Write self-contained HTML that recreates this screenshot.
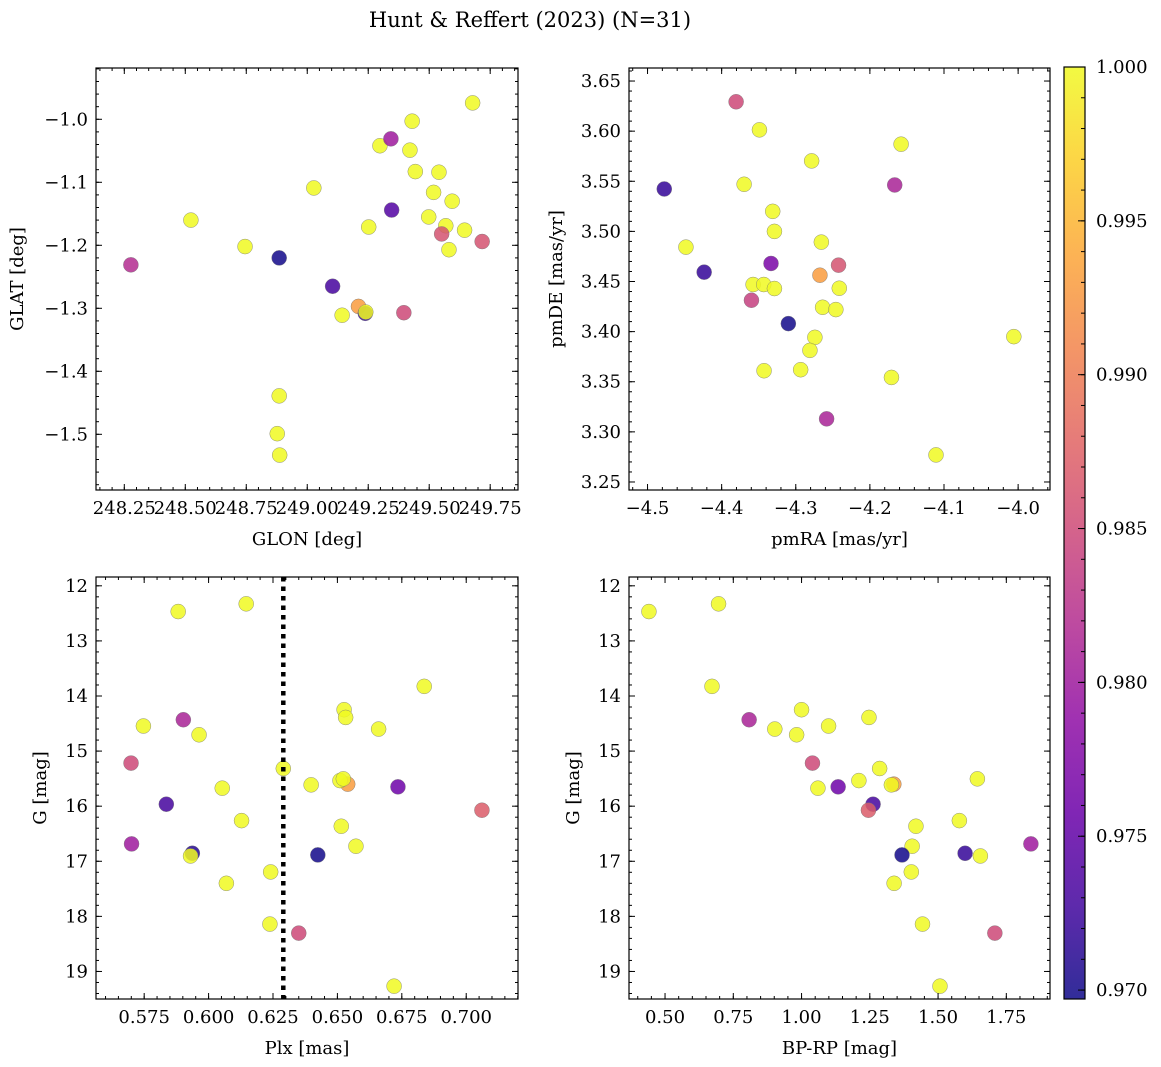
<!DOCTYPE html>
<html><head><meta charset="utf-8"><style>
html,body{margin:0;padding:0;background:#fff;}
svg{display:block;font-family:"DejaVu Serif","Liberation Serif",serif;}
</style></head><body>
<svg id="fig" width="1161" height="1067" viewBox="0 0 1161 1067" xmlns="http://www.w3.org/2000/svg">
<rect width="1161" height="1067" fill="#fff"/>
<text x="530" y="27" font-size="21" text-anchor="middle">Hunt &amp; Reffert (2023) (N=31)</text>
</svg>
<script>
// ---- Panel 1: GLON vs GLAT ----
const glon = [248.277,248.523,248.745,248.885,249.027,249.104,249.143,249.210,249.238,249.240,249.252,249.298,249.343,249.346,249.396,249.430,249.421,249.443,249.540,249.518,249.594,249.498,249.568,249.551,249.645,249.717,249.581,249.678,248.885,248.877,248.887];
const glat = [-1.231,-1.160,-1.202,-1.220,-1.109,-1.265,-1.311,-1.297,-1.308,-1.306,-1.171,-1.042,-1.031,-1.144,-1.307,-1.003,-1.049,-1.083,-1.084,-1.116,-1.130,-1.155,-1.169,-1.182,-1.176,-1.194,-1.207,-0.974,-1.439,-1.499,-1.533];
const prob1 = [0.982,1,1,0.970,1,0.973,1,0.993,0.972,1,1,1,0.980,0.974,0.985,1,1,1,1,1,1,1,1,0.986,1,0.986,1,1,1,1,1];
const p1xTicks = [248.25,248.50,248.75,249.00,249.25,249.50,249.75];
const p1yTicks = [-1.0,-1.1,-1.2,-1.3,-1.4,-1.5];

// ---- Panel 2: pmRA vs pmDE ----
const pmra = [-4.4774,-4.3805,-4.349,-4.3697,-4.1579,-4.2786,-4.1665,-4.3311,-4.3288,-4.4482,-4.2655,-4.3334,-4.4236,-4.2423,-4.2674,-4.3576,-4.3432,-4.3288,-4.2413,-4.3598,-4.2638,-4.2459,-4.31,-4.0058,-4.2742,-4.2809,-4.3428,-4.2934,-4.1709,-4.2584,-4.1108];
const pmde = [3.5423,3.6293,3.6013,3.547,3.587,3.5703,3.5463,3.52,3.50,3.4843,3.4893,3.468,3.4593,3.4663,3.4563,3.447,3.447,3.443,3.4433,3.4313,3.4243,3.422,3.408,3.395,3.3943,3.3813,3.361,3.362,3.3543,3.313,3.277];
const prob2 = [0.972,0.985,1,1,1,1,0.981,1,1,1,1,0.977,0.972,0.986,0.993,1,1,1,1,0.984,1,1,0.970,1,1,1,1,1,1,0.981,1];
const p2xTicks = [-4.5,-4.4,-4.3,-4.2,-4.1,-4.0];
const p2yTicks = [3.65,3.60,3.55,3.50,3.45,3.40,3.35,3.30,3.25];

// ---- Panel 3: Plx vs G ----
const plx = [0.5882,0.6146,0.6837,0.6526,0.6532,0.5902,0.5747,0.5963,0.6660,0.5699,0.6290,0.6398,0.6540,0.6510,0.6523,0.6735,0.6053,0.5836,0.7061,0.6128,0.6515,0.6572,0.5701,0.5937,0.5930,0.6424,0.6241,0.6069,0.6238,0.6350,0.6720];
const gmag3 = [12.467,12.327,13.825,14.249,14.389,14.431,14.545,14.704,14.6,15.218,15.316,15.613,15.6,15.535,15.504,15.649,15.673,15.964,16.073,16.262,16.364,16.727,16.685,16.855,16.904,16.885,17.194,17.4,18.14,18.304,19.267];
const prob3 = [1,1,1,1,1,0.981,1,1,1,0.985,1,1,0.993,1,1,0.976,1,0.973,0.987,1,1,1,0.980,0.971,1,0.970,1,1,1,0.985,1];
const plxCut = [0.629];
const p3xTicks = [0.575,0.600,0.625,0.650,0.675,0.700];
const gTicks = [12,13,14,15,16,17,18,19];

// ---- Panel 4: BP-RP vs G ----
const bprp = [0.441,0.696,0.672,1.000,0.808,1.247,0.902,1.099,0.982,1.040,1.286,1.644,1.060,1.134,1.210,1.338,1.329,1.262,1.245,1.578,1.419,1.405,1.840,1.368,1.599,1.655,1.402,1.339,1.443,1.708,1.507];
const gmag4 = [12.467,12.327,13.825,14.249,14.431,14.389,14.6,14.545,14.704,15.218,15.316,15.504,15.673,15.649,15.535,15.6,15.613,15.964,16.073,16.262,16.364,16.727,16.685,16.885,16.855,16.904,17.194,17.4,18.14,18.304,19.267];
const prob4 = [1,1,1,1,0.981,1,1,1,1,0.985,1,1,1,0.976,1,0.993,1,0.973,0.987,1,1,1,0.980,0.970,0.972,1,1,1,1,0.985,1];
const p4xTicks = [0.50,0.75,1.00,1.25,1.50,1.75];

// ---- Colorbar ----
const cbTicks = [1.000,0.995,0.990,0.985,0.980,0.975,0.970];
const cbRange = [0.96971,1.0];

const NS = "http://www.w3.org/2000/svg";
const svg = document.getElementById('fig');
const plasma = ["#0d0887","#41049d","#6a00a8","#8f0da4","#b12a90","#cc4778","#e16462","#f2844b","#fca636","#fcce25","#f0f921"];
function hex2rgb(h){return [parseInt(h.slice(1,3),16),parseInt(h.slice(3,5),16),parseInt(h.slice(5,7),16)];}
function cmap(v){
  let t=(v-cbRange[0])/(cbRange[1]-cbRange[0]); t=Math.max(0,Math.min(1,t));
  const f=t*10, i=Math.min(9,Math.floor(f)), r=f-i;
  const a=hex2rgb(plasma[i]), b=hex2rgb(plasma[i+1]);
  return 'rgb('+a.map((c,k)=>Math.round(c+(b[k]-c)*r)).join(',')+')';
}
function mk(tag,attrs,parent){const e=document.createElementNS(NS,tag);for(const k in attrs)e.setAttribute(k,attrs[k]);(parent||svg).appendChild(e);return e;}
function fmt(v,d){return (v<0?'\u2212':'')+Math.abs(v).toFixed(d);}

function panel(o){
  const g=mk('g',{});
  
  
  const sx=v=>o.L+(v-o.xlim[0])/(o.xlim[1]-o.xlim[0])*(o.R-o.L);
  const sy=v=>o.yinv? o.T+(v-o.ylim[0])/(o.ylim[1]-o.ylim[0])*(o.B-o.T)
                    : o.B-(v-o.ylim[0])/(o.ylim[1]-o.ylim[0])*(o.B-o.T);
  for(let i=0;i<o.xs.length;i++){
    const c=mk('circle',{cx:sx(o.xs[i]),cy:sy(o.ys[i]),r:7.5,fill:cmap(o.ps[i]),'fill-opacity':0.85,stroke:'#777','stroke-width':0.5,'stroke-opacity':0.8},g);
    
    
  }
  if(o.vline){
    for(const v of o.vline){
      const l=mk('line',{x1:sx(v),x2:sx(v),y1:o.T,y2:o.B,stroke:'#000','stroke-width':4.5,'stroke-dasharray':'4.5,5'},g);
      
      
    }
  }
  const tk=mk('g',{stroke:'#000','stroke-width':1},g);
  for(let v=o.xminor[0]; v<=o.xlim[1]+1e-9; v+=o.xminor[1]){
    if(v<o.xlim[0]) continue; const x=sx(v);
    mk('line',{x1:x,x2:x,y1:o.B,y2:o.B-3},tk); mk('line',{x1:x,x2:x,y1:o.T,y2:o.T+3},tk);
  }
  for(let v=o.yminor[0]; v<=Math.max(...o.ylim)+1e-9; v+=o.yminor[1]){
    if(v<Math.min(...o.ylim)) continue; const y=sy(v);
    mk('line',{x1:o.L,x2:o.L+3,y1:y,y2:y},tk); mk('line',{x1:o.R,x2:o.R-3,y1:y,y2:y},tk);
  }
  for(const v of o.xt){const x=sx(v);
    mk('line',{x1:x,x2:x,y1:o.B,y2:o.B-6},tk); mk('line',{x1:x,x2:x,y1:o.T,y2:o.T+6},tk);
    const t=mk('text',{x:x,y:o.B+24,'font-size':18,'text-anchor':'middle'},g); t.textContent=fmt(v,o.xd);
    
    
  }
  for(const v of o.yt){const y=sy(v);
    mk('line',{x1:o.L,x2:o.L+6,y1:y,y2:y},tk); mk('line',{x1:o.R,x2:o.R-6,y1:y,y2:y},tk);
    const t=mk('text',{x:o.L-8,y:y+6,'font-size':18,'text-anchor':'end'},g); t.textContent=fmt(v,o.yd);
    
    
  }
  mk('rect',{x:o.L,y:o.T,width:o.R-o.L,height:o.B-o.T,fill:'none',stroke:'#000','stroke-width':1.2},g);
  const xl=mk('text',{x:(o.L+o.R)/2,y:o.B+55,'font-size':18,'text-anchor':'middle'},g); xl.textContent=o.xlabel;
  
  
  const yl=mk('text',{x:0,y:0,'font-size':18,'text-anchor':'middle',transform:'translate('+o.ylx+','+((o.T+o.B)/2)+') rotate(-90)'},g); yl.textContent=o.ylabel;
  
  
}

panel({name:'glon-glat-panel',L:96,R:518,T:68,B:490,xlim:[248.134,249.864],ylim:[-1.5884,-0.9186],xs:glon,ys:glat,ps:prob1,
  xt:p1xTicks,yt:p1yTicks,xd:2,yd:1,xminor:[248.15,0.05],yminor:[-1.58,0.02],xlabel:'GLON [deg]',ylabel:'GLAT [deg]',ylx:23});
panel({name:'pm-panel',L:629,R:1050,T:68,B:490,xlim:[-4.525,-3.957],ylim:[3.242,3.663],xs:pmra,ys:pmde,ps:prob2,
  xt:p2xTicks,yt:p2yTicks,xd:1,yd:2,xminor:[-4.52,0.02],yminor:[3.25,0.01],xlabel:'pmRA [mas/yr]',ylabel:'pmDE [mas/yr]',ylx:562});
panel({name:'plx-g-panel',L:96,R:518,T:577,B:999,xlim:[0.5563,0.7201],ylim:[11.84,19.5],yinv:true,xs:plx,ys:gmag3,ps:prob3,vline:plxCut,
  xt:p3xTicks,yt:gTicks,xd:3,yd:0,xminor:[0.56,0.005],yminor:[12,0.2],xlabel:'Plx [mas]',ylabel:'G [mag]',ylx:46});
panel({name:'cmd-panel',L:629,R:1050,T:577,B:999,xlim:[0.368,1.910],ylim:[11.84,19.5],yinv:true,xs:bprp,ys:gmag4,ps:prob4,
  xt:p4xTicks,yt:gTicks,xd:2,yd:0,xminor:[0.4,0.05],yminor:[12,0.2],xlabel:'BP-RP [mag]',ylabel:'G [mag]',ylx:579});

(function(){
  const L=1064,R=1085,T=67,B=999;
  const cb=mk('g',{});
  
  
  const defs=mk('defs',{},cb);
  const lg=mk('linearGradient',{id:'pl',x1:0,y1:1,x2:0,y2:0},defs);
  plasma.forEach((c,i)=>mk('stop',{offset:(i/10),'stop-color':c,'stop-opacity':0.85},lg));
  mk('rect',{x:L,y:T,width:R-L,height:B-T,fill:'url(#pl)'},cb);
  const sy=v=>B-(v-cbRange[0])/(cbRange[1]-cbRange[0])*(B-T);
  for(let v=0.970; v<=1.0001; v+=0.001){ const y=sy(v); mk('line',{x1:R,x2:R-4,y1:y,y2:y,stroke:'#000'},cb); }
  for(const v of cbTicks){ const y=sy(v);
    mk('line',{x1:R,x2:R-7,y1:y,y2:y,stroke:'#000'},cb);
    const t=mk('text',{x:R+11,y:y+6,'font-size':18},cb); t.textContent=v.toFixed(3);
    
    
  }
  mk('rect',{x:L,y:T,width:R-L,height:B-T,fill:'none',stroke:'#000','stroke-width':1.2},cb);
})();
</script>
</body></html>
